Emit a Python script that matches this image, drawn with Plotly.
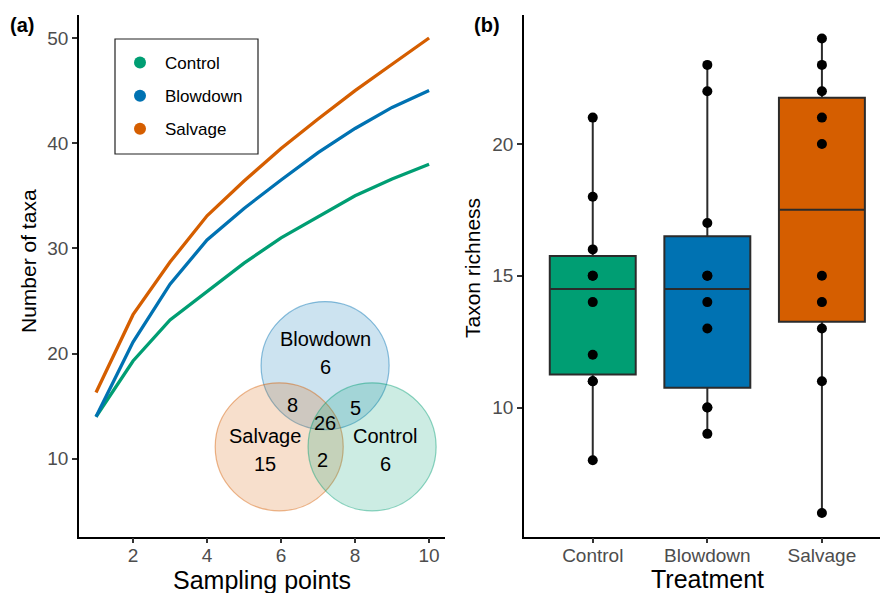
import numpy as np
import plotly.graph_objects as go

# ---------------- data ----------------
sampling_points = [1, 2, 3, 4, 5, 6, 7, 8, 9, 10]
control_taxa = [14.0, 19.3, 23.2, 25.9, 28.6, 31.0, 33.0, 35.0, 36.6, 38.0]
blowdown_taxa = [14.0, 21.1, 26.6, 30.8, 33.8, 36.5, 39.1, 41.4, 43.4, 45.0]
salvage_taxa = [16.3, 23.7, 28.7, 33.1, 36.4, 39.5, 42.3, 45.0, 47.5, 50.0]

treatments = ["Control", "Blowdown", "Salvage"]
control_richness = [8, 11, 11, 12, 14, 15, 15, 16, 18, 21]
blowdown_richness = [9, 10, 10, 13, 14, 15, 15, 17, 22, 23]
salvage_richness = [6, 11, 13, 14, 15, 20, 21, 22, 23, 24]

venn_sets = ["Blowdown", "Salvage", "Control"]
venn_unique = [6, 15, 6]
venn_pairs = {"Blowdown&Salvage": 8, "Blowdown&Control": 5, "Salvage&Control": 2}
venn_all = 26

colors = {"Control": "#009E73", "Blowdown": "#0072B2", "Salvage": "#D55E00"}
fills = {"Control": "rgba(0,158,115,0.2)", "Blowdown": "rgba(0,114,178,0.2)",
         "Salvage": "rgba(213,94,0,0.2)"}
borders = {"Control": "rgba(0,158,115,0.45)", "Blowdown": "rgba(0,114,178,0.45)",
           "Salvage": "rgba(213,94,0,0.45)"}

FONT = "Arial, Liberation Sans, sans-serif"
W, H = 880, 593

fig = go.Figure()

# ---------------- panel (a): accumulation curves ----------------
curves = {"Control": control_taxa, "Blowdown": blowdown_taxa, "Salvage": salvage_taxa}
for name, vals in curves.items():
    fig.add_trace(go.Scatter(x=sampling_points, y=vals, mode="lines",
                             line=dict(color=colors[name], width=3.3),
                             showlegend=False, xaxis="x", yaxis="y"))
for name in curves:
    fig.add_trace(go.Scatter(x=[None], y=[None], mode="markers", name=name,
                             legendgroup=name,
                             marker=dict(color=colors[name], size=12),
                             xaxis="x", yaxis="y"))

# ---------------- panel (b): boxplots ----------------
groups = {"Control": control_richness, "Blowdown": blowdown_richness,
          "Salvage": salvage_richness}
for name, vals in groups.items():
    v = np.array(vals, dtype=float)
    q1, med, q3 = np.percentile(v, [25, 50, 75])
    iqr = q3 - q1
    lo = v[v >= q1 - 1.5 * iqr].min()
    hi = v[v <= q3 + 1.5 * iqr].max()
    fig.add_trace(go.Box(x=[name], q1=[q1], median=[med], q3=[q3],
                         lowerfence=[lo], upperfence=[hi],
                         fillcolor=colors[name],
                         line=dict(color="#2b2b2b", width=2),
                         whiskerwidth=0, width=0.75, boxpoints=False,
                         showlegend=False, xaxis="x2", yaxis="y2"))
    fig.add_trace(go.Scatter(x=[name] * len(vals), y=vals, mode="markers",
                             marker=dict(color="black", size=10),
                             showlegend=False, xaxis="x2", yaxis="y2"))

# ---------------- layout ----------------
axis_common = dict(showgrid=False, zeroline=False, showline=True,
                   linecolor="black", linewidth=1.6, ticks="outside",
                   ticklen=5, tickwidth=1.5, tickcolor="#333333",
                   tickfont=dict(family=FONT, size=19, color="#4d4d4d"))

ydom = [0.095, 0.975]
fig.update_layout(
    width=W, height=H,
    margin=dict(l=0, r=0, t=0, b=0),
    paper_bgcolor="white", plot_bgcolor="white",
    font=dict(family=FONT),
    xaxis=dict(domain=[79 / W, 445 / W], range=[0.54, 10.43],
               tickvals=[2, 4, 6, 8, 10], anchor="y", ticklabelstandoff=-4,
               **axis_common),
    yaxis=dict(domain=ydom, range=[2.6, 52.2],
               tickvals=[10, 20, 30, 40, 50], anchor="x", **axis_common),
    xaxis2=dict(domain=[524 / W, 1.0], range=[-0.6, 2.507], type="category",
                categoryorder="array", categoryarray=treatments,
                anchor="y2", ticklabelstandoff=-4, **axis_common),
    yaxis2=dict(domain=ydom, range=[5.1, 24.9], tickvals=[10, 15, 20],
                anchor="x2", **axis_common),
    legend=dict(x=115 / W, y=1 - 45 / H, xanchor="left", yanchor="top",
                bgcolor="rgba(0,0,0,0)", borderwidth=0,
                traceorder="grouped", tracegroupgap=8, itemwidth=40,
                font=dict(family=FONT, size=17, color="black")),
)

shapes = []
# legend frame
shapes.append(dict(type="rect", xref="paper", yref="paper",
                   x0=115 / W, x1=258 / W, y0=1 - 154 / H, y1=1 - 39 / H,
                   line=dict(color="#222222", width=1.2), fillcolor="rgba(0,0,0,0)"))

# venn circles (data coords of panel a)
rx = 1.73
ry = rx * 37.0 / 10.52
centers = {"Blowdown": (7.19, 18.86), "Salvage": (5.95, 11.14), "Control": (8.46, 11.14)}
for name in venn_sets:
    cx, cy = centers[name]
    shapes.append(dict(type="circle", xref="x", yref="y",
                       x0=cx - rx, x1=cx + rx, y0=cy - ry, y1=cy + ry,
                       fillcolor=fills[name], line=dict(color=borders[name], width=1.2)))
fig.update_layout(shapes=shapes)

annotations = []
vfont = dict(family=FONT, size=20, color="black")
label_pos = {"Blowdown": (7.19, 21.43, 18.76), "Salvage": (5.57, 12.19, 9.52),
             "Control": (8.81, 12.19, 9.52)}
for name, count in zip(venn_sets, venn_unique):
    x, yl, yc = label_pos[name]
    annotations.append(dict(x=x, y=yl, xref="x", yref="y", text=name,
                            showarrow=False, font=vfont))
    annotations.append(dict(x=x, y=yc, xref="x", yref="y", text=str(count),
                            showarrow=False, font=vfont))
pair_pos = {"Blowdown&Salvage": (6.32, 15.14), "Blowdown&Control": (8.0, 14.86),
            "Salvage&Control": (7.13, 9.9)}
for k, v in venn_pairs.items():
    x, y = pair_pos[k]
    annotations.append(dict(x=x, y=y, xref="x", yref="y", text=str(v),
                            showarrow=False, font=vfont))
annotations.append(dict(x=7.19, y=13.43, xref="x", yref="y", text=str(venn_all),
                        showarrow=False, font=vfont))

# axis titles and panel tags
tfont = dict(family=FONT, size=25, color="black")
yfont = dict(family=FONT, size=21, color="black")
tagfont = dict(family=FONT, size=20, color="black")
for a in [
    dict(x=262 / W, y=1 - 580 / H, text="Sampling points", font=tfont),
    dict(x=707 / W, y=1 - 579 / H, text="Treatment", font=tfont),
    dict(x=28 / W, y=1 - 261 / H, text="Number of taxa", textangle=-90, font=yfont),
    dict(x=472 / W, y=1 - 268 / H, text="Taxon richness", textangle=-90, font=yfont),
    dict(x=22 / W, y=1 - 25 / H, text="<b>(a)</b>", font=tagfont),
    dict(x=487 / W, y=1 - 25 / H, text="<b>(b)</b>", font=tagfont),
]:
    a.update(xref="paper", yref="paper", xanchor="center", yanchor="middle",
             showarrow=False)
    annotations.append(a)
fig.update_layout(annotations=annotations)

fig.write_html("out.html")
